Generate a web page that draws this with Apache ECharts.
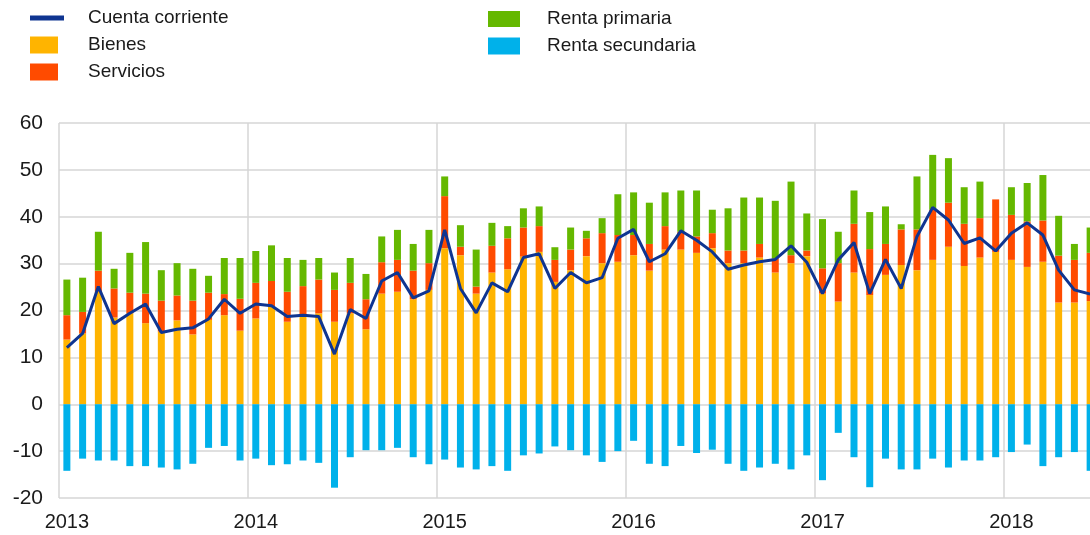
<!DOCTYPE html>
<html>
<head>
<meta charset="utf-8">
<script src="https://cdn.jsdelivr.net/npm/echarts@6/dist/echarts.min.js"></script>
<style>
html,body{margin:0;padding:0;background:#fff;}
#chart{width:1090px;height:535px;}
</style>
</head>
<body>
<div id="chart"></div>
<script>
// Months Jan 2013 – Jun 2018
var years = ['2013','2014','2015','2016','2017','2018'];
var months = ['01','02','03','04','05','06','07','08','09','10','11','12'];
var categories = [];
years.forEach(function(y){ months.forEach(function(m){ if (y !== '2018' || +m <= 6) categories.push(y + '-' + m); }); });

var bienes = [
  13.8,15.1,24.0,18.5,19.4,17.3,15.5,17.9,14.9,18.0,19.0,15.7,
  18.3,20.8,17.6,18.7,19.4,17.6,19.4,16.0,23.6,24.0,22.4,24.4,
  33.3,31.8,23.6,28.1,28.8,31.5,32.5,26.1,28.6,31.6,30.1,30.4,
  31.8,28.5,33.0,33.0,32.3,33.3,30.1,30.1,31.3,28.1,30.1,31.6,
  23.6,21.9,28.1,23.3,27.6,29.7,28.6,30.8,33.6,29.5,31.3,32.5,
  30.8,29.3,30.4,21.7,21.7,22.0
];
var servicios = [
  5.2,4.6,4.5,6.2,4.4,6.3,6.6,5.3,7.2,5.8,4.5,6.8,
  7.6,5.5,6.4,6.5,7.2,6.8,6.5,6.4,6.7,6.8,6.1,5.7,
  11.1,1.8,1.5,5.7,6.6,6.2,5.5,4.7,4.4,3.8,6.4,5.7,
  4.3,5.7,5.0,3.8,3.5,3.2,2.7,2.7,2.9,3.0,1.7,1.2,
  5.4,8.2,10.4,9.8,6.6,7.6,8.7,10.7,9.4,9.0,8.4,11.2,
  9.6,9.7,8.8,10.0,9.1,10.3
];
var rentaPrimaria = [
  7.6,7.3,8.3,4.2,8.5,11.0,6.5,6.9,6.8,3.6,7.7,8.7,
  6.8,7.6,7.2,5.6,4.6,3.7,5.3,5.4,5.5,6.4,5.7,7.1,
  4.2,4.6,7.9,4.9,2.6,4.1,4.2,2.7,4.7,1.6,3.2,8.7,
  9.1,8.8,7.2,8.8,9.8,5.0,9.0,11.3,9.9,12.3,15.7,7.9,
  10.5,6.7,7.1,7.9,8.0,1.1,11.3,11.7,9.5,7.8,7.8,0,
  5.9,8.2,9.7,8.5,3.4,5.4
];
var rentaSecundaria = [
  -14.2,-11.6,-12.0,-12.0,-13.2,-13.2,-13.5,-13.9,-12.7,-9.3,-8.9,-12.0,
  -11.6,-13.0,-12.8,-12.0,-12.5,-17.8,-11.3,-9.8,-9.8,-9.3,-11.3,-12.8,
  -11.8,-13.5,-13.9,-13.2,-14.2,-10.9,-10.5,-9.0,-9.8,-10.9,-12.3,-10.0,
  -7.8,-12.7,-13.2,-8.9,-10.4,-9.7,-12.7,-14.2,-13.5,-12.7,-13.9,-10.9,
  -16.2,-6.1,-11.3,-17.7,-11.6,-13.9,-13.9,-11.6,-13.5,-12.0,-12.0,-11.3,
  -10.2,-8.6,-13.2,-11.3,-10.2,-14.2
];
var cuentaCorriente = [
  12.1,15.1,25.1,17.2,19.4,21.4,15.3,16.0,16.3,18.2,22.4,19.4,
  21.4,21.0,18.7,19.0,18.7,10.7,20.2,18.3,26.3,28.1,22.7,24.2,
  37.2,24.7,19.5,25.9,24.0,31.3,32.1,24.7,28.1,25.9,27.0,35.4,
  37.3,30.4,32.1,37.0,35.0,32.5,28.8,29.7,30.4,30.9,33.8,30.3,
  23.6,30.8,34.5,23.6,30.9,24.7,35.8,42.0,39.3,34.3,35.5,32.7,
  36.5,38.7,36.1,28.6,24.4,23.5
];
var yTicks = [-20,-10,0,10,20,30,40,50,60];

var FONT = '"Liberation Sans", Arial, sans-serif';
var TXT = '#1a1a1a';
var C = {cc:'#0f3591', bienes:'#FFB400', serv:'#FF4B00', prim:'#65B800', sec:'#00B1EA'};

function lg(name, left, top, w, h, pad) {
  return {
    data:[name], left:left, top:top, orient:'vertical', padding:0,
    itemWidth:w, itemHeight:h, icon:'rect', selectedMode:false,
    textStyle:{fontFamily:FONT, fontSize:19, color:TXT, lineHeight:20, padding:[0,0,0,pad]}
  };
}

var chart = echarts.init(document.getElementById('chart'), null, {renderer:'canvas'});
chart.setOption({
  animation:false,
  backgroundColor:'#ffffff',
  legend:[
    lg('Cuenta corriente', 30, 8, 34, 5, 19),
    lg('Bienes', 30, 35, 28, 17, 25),
    lg('Servicios', 30, 62, 28, 17, 25),
    lg('Renta primaria', 488, 9, 32, 16, 22),
    lg('Renta secundaria', 488, 36, 32, 17, 22)
  ],
  grid:{left:59, right:-8, top:123, bottom:37, containLabel:false, outerBoundsMode:'none'},
  xAxis:{
    type:'category', data:categories, boundaryGap:true,
    axisLine:{show:false}, axisTick:{show:false},
    axisLabel:{
      interval:function(i){ return i % 12 === 0; },
      formatter:function(v){ return v.slice(0,4); },
      fontFamily:FONT, fontSize:20, color:TXT, margin:14
    },
    splitLine:{show:true, interval:function(i){ return i % 12 === 0; }, lineStyle:{color:'#d6d6d6', width:1.5}}
  },
  yAxis:{
    type:'value', min:yTicks[0], max:yTicks[yTicks.length-1], interval:10,
    axisLine:{show:false}, axisTick:{show:false},
    axisLabel:{fontFamily:FONT, fontSize:21, color:TXT, margin:16},
    splitLine:{show:true, lineStyle:{color:'#d6d6d6', width:1.5}}
  },
  series:[
    {name:'Bienes', type:'bar', stack:'t', data:bienes, barWidth:7, itemStyle:{color:C.bienes}},
    {name:'Servicios', type:'bar', stack:'t', data:servicios, barWidth:7, itemStyle:{color:C.serv}},
    {name:'Renta primaria', type:'bar', stack:'t', data:rentaPrimaria, barWidth:7, itemStyle:{color:C.prim}},
    {name:'Renta secundaria', type:'bar', stack:'t', data:rentaSecundaria, barWidth:7, itemStyle:{color:C.sec}},
    {name:'Cuenta corriente', type:'line', data:cuentaCorriente, showSymbol:false, symbol:'none', z:10,
     lineStyle:{color:C.cc, width:3}, itemStyle:{color:C.cc}}
  ]
});
</script>
</body>
</html>
